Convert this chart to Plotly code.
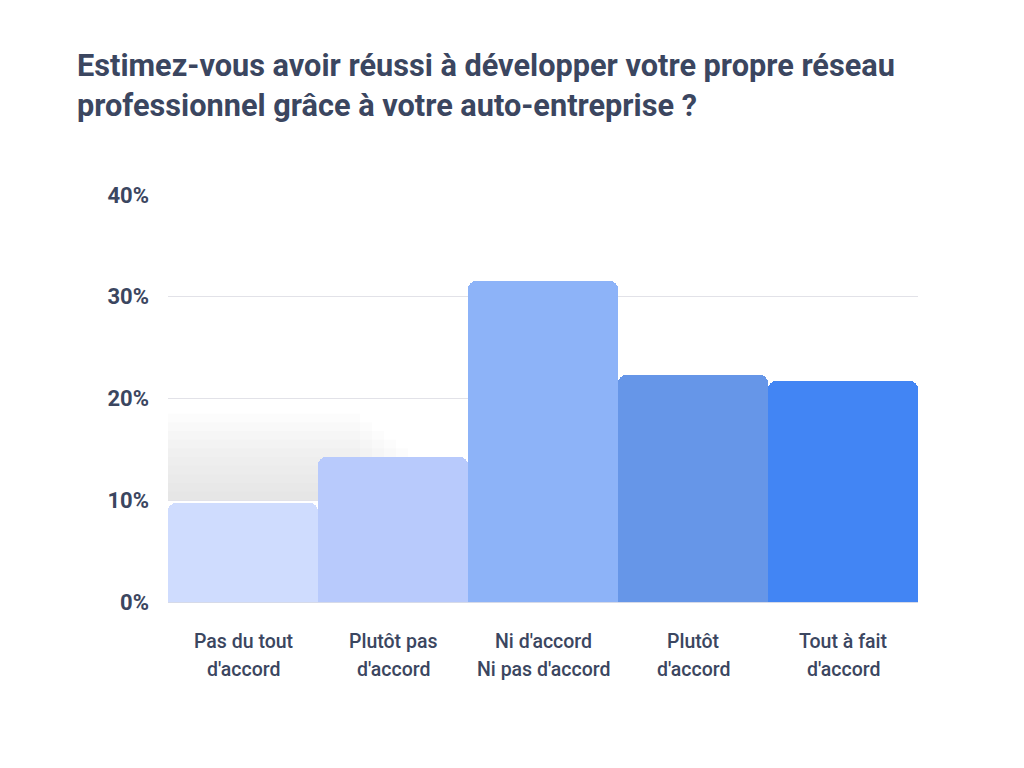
import plotly.graph_objects as go

title_lines = [
    "Estimez-vous avoir réussi à développer votre propre réseau",
    "professionnel grâce à votre auto-entreprise ?",
]
categories = [
    "Pas du tout<br>d'accord",
    "Plutôt pas<br>d'accord",
    "Ni d'accord<br>Ni pas d'accord",
    "Plutôt<br>d'accord",
    "Tout à fait<br>d'accord",
]
values = [9.7, 14.3, 31.5, 22.3, 21.7]
colors = ["#CFDCFE", "#B8CAFC", "#8DB3F8", "#6696E8", "#4285F4"]
tick_vals = [0, 10, 20, 30, 40]
tick_text = ["0%", "10%", "20%", "30%", "40%"]

TEXT = "#3B4660"
FONT = "Roboto"

x_idx = list(range(len(categories)))

fig = go.Figure()
fig.add_trace(go.Bar(
    x=x_idx, y=values,
    marker=dict(color=colors, line=dict(width=0), cornerradius=8),
    width=1.0,
    hoverinfo="skip",
))

# soft gray shadow behind the first bars
shapes = []
n = 10
for k in range(n):
    shapes.append(dict(
        type="rect", xref="x", yref="y", layer="below",
        x0=-0.5, x1=1.5 - k * 0.08, y0=10, y1=10 + 8.5 * (k + 1) / n,
        fillcolor="#D8D8D8", opacity=0.07, line=dict(width=0),
    ))
fig.update_layout(shapes=shapes)

annotations = []
for i, line in enumerate(title_lines):
    annotations.append(dict(
        text=f"<b>{line}</b>", xref="paper", yref="paper",
        x=-0.124, y=1.0, xanchor="left", yanchor="bottom",
        yshift=110 - 40 * i, showarrow=False,
        font=dict(family=FONT, size=30.7, color=TEXT),
    ))
for i, cat in enumerate(categories):
    for j, line in enumerate(cat.split("<br>")):
        annotations.append(dict(
            text=line, xref="x", yref="paper", x=i, y=0,
            xanchor="center", yanchor="middle", yshift=-39 - 28 * j,
            showarrow=False,
            font=dict(family=FONT, size=19.5, color=TEXT, weight=500),
        ))
fig.update_layout(annotations=annotations)

fig.update_layout(
    width=1024, height=768,
    margin=dict(l=160, r=114, t=187, b=174),
    paper_bgcolor="white", plot_bgcolor="white",
    showlegend=False, bargap=0,
    xaxis=dict(range=[-0.5, 4.5], showticklabels=False, showgrid=False,
               zeroline=False, showline=False, fixedrange=True),
    yaxis=dict(range=[0, 40], tickvals=tick_vals, ticktext=tick_text,
               showgrid=True, gridcolor="#E2E2E8", gridwidth=1,
               zeroline=True, zerolinecolor="#D6DAE8", zerolinewidth=1,
               showline=False, ticks="", ticklabelstandoff=18,
               tickfont=dict(family=FONT, size=22, color=TEXT, weight="bold")),
)

fig.write_html("out.html")
